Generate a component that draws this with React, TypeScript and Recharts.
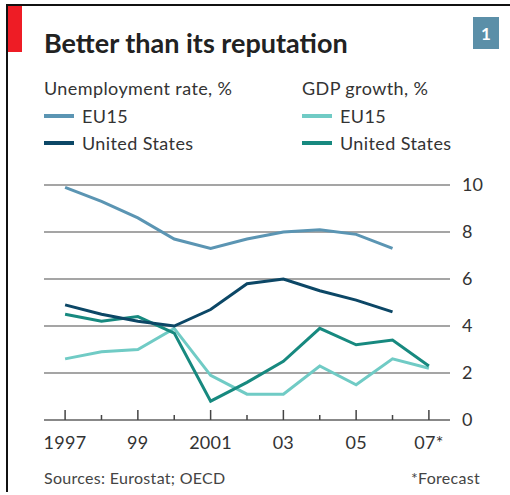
import React from 'react';
import { LineChart, Line, XAxis, YAxis, CartesianGrid } from 'recharts';

const years = [1997, 1998, 1999, 2000, 2001, 2002, 2003, 2004, 2005, 2006, 2007];
const unempEU = [9.9, 9.3, 8.6, 7.7, 7.3, 7.7, 8.0, 8.1, 7.9, 7.3, null];
const unempUS = [4.9, 4.5, 4.2, 4.0, 4.7, 5.8, 6.0, 5.5, 5.1, 4.6, null];
const gdpEU = [2.6, 2.9, 3.0, 3.9, 1.9, 1.1, 1.1, 2.3, 1.5, 2.6, 2.2];
const gdpUS = [4.5, 4.2, 4.4, 3.7, 0.8, 1.6, 2.5, 3.9, 3.2, 3.4, 2.3];
const yearLabels: Record<number, string> = { 1997: '1997', 1999: '99', 2001: '2001', 2003: '03', 2005: '05', 2007: '07*' };
const yTicks = [0, 2, 4, 6, 8, 10];

const data = years.map((y, i) => ({
  year: y,
  unempEU: unempEU[i],
  unempUS: unempUS[i],
  gdpEU: gdpEU[i],
  gdpUS: gdpUS[i],
}));

const FONT = 'Lato, "Open Sans", sans-serif';
const C = {
  unempEU: '#5b95b3',
  unempUS: '#0c4766',
  gdpEU: '#70cbc5',
  gdpUS: '#17897f',
};

const YearTick = (props: any) => {
  const { x, y, payload } = props;
  const label = yearLabels[payload.value];
  const major = label !== undefined;
  return (
    <g>
      <line x1={x} x2={x} y1={y - (major ? 10 : 5)} y2={y} stroke="#444" strokeWidth={1.5} />
      {major && (
        <text x={x} y={y + 29} textAnchor="middle" fontSize={18} fill="#333" fontFamily={FONT} letterSpacing={0.3}>
          {label}
        </text>
      )}
    </g>
  );
};

const Swatch = ({ color, label }: { color: string; label: string }) => (
  <div style={{ display: 'flex', alignItems: 'center', height: 27 }}>
    <div style={{ width: 30, height: 4, background: color, marginRight: 8 }} />
    <span>{label}</span>
  </div>
);

export default function App() {
  return (
    <div
      style={{
        position: 'absolute',
        left: 0,
        top: 0,
        width: 510,
        height: 495,
        background: '#fff',
        fontFamily: FONT,
        color: '#333',
        overflow: 'hidden',
      }}
    >
      <div style={{ position: 'absolute', left: 7, top: 4, width: 503, height: 2, background: '#111' }} />
      <div style={{ position: 'absolute', left: 6, top: 4, width: 2, height: 488, background: '#111' }} />
      <div style={{ position: 'absolute', left: 8, top: 6, width: 14, height: 46, background: '#ee1c25' }} />
      <div
        style={{
          position: 'absolute',
          left: 473,
          top: 17,
          width: 26,
          height: 32,
          background: '#5b8fa8',
          color: '#fff',
          fontWeight: 700,
          fontSize: 17,
          display: 'flex',
          alignItems: 'center',
          justifyContent: 'center',
        }}
      >
        1
      </div>
      <div style={{ position: 'absolute', left: 44, top: 26, fontSize: 27, fontWeight: 700, color: '#222' }}>
        Better than its reputation
      </div>
      <div style={{ position: 'absolute', left: 44, top: 76, fontSize: 18, letterSpacing: 0.4, lineHeight: '24px' }}>
        <div style={{ marginBottom: 2 }}>Unemployment rate, %</div>
        <Swatch color={C.unempEU} label="EU15" />
        <Swatch color={C.unempUS} label="United States" />
      </div>
      <div style={{ position: 'absolute', left: 302, top: 76, fontSize: 18, letterSpacing: 0.4, lineHeight: '24px' }}>
        <div style={{ marginBottom: 2 }}>GDP growth, %</div>
        <Swatch color={C.gdpEU} label="EU15" />
        <Swatch color={C.gdpUS} label="United States" />
      </div>

      <div style={{ position: 'absolute', left: 0, top: 0 }}>
        <LineChart width={510} height={495} data={data} margin={{ top: 185, right: 0, bottom: 45, left: 44 }}>
          <CartesianGrid vertical={false} stroke="#a5a5a5" strokeWidth={2} />
          <XAxis
            dataKey="year"
            type="number"
            domain={[1996.42, 2007.58]}
            ticks={years}
            interval={0}
            height={30}
            tickSize={0}
            tickMargin={0}
            axisLine={{ stroke: '#888', strokeWidth: 2 }}
            tick={<YearTick />}
          />
          <YAxis
            orientation="right"
            domain={[0, 10]}
            ticks={yTicks}
            interval={0}
            width={60}
            axisLine={false}
            tickLine={false}
            tickMargin={6}
            tick={{ fontSize: 18, fill: '#333', fontFamily: FONT, textAnchor: 'start' }}
          />
          <Line dataKey="unempEU" stroke={C.unempEU} strokeWidth={3} dot={false} isAnimationActive={false} />
          <Line dataKey="gdpEU" stroke={C.gdpEU} strokeWidth={3} dot={false} isAnimationActive={false} />
          <Line dataKey="gdpUS" stroke={C.gdpUS} strokeWidth={3} dot={false} isAnimationActive={false} />
          <Line dataKey="unempUS" stroke={C.unempUS} strokeWidth={3} dot={false} isAnimationActive={false} />
        </LineChart>
      </div>

      <div style={{ position: 'absolute', left: 44, top: 468, fontSize: 16, color: '#444', letterSpacing: 0.3 }}>
        Sources: Eurostat; OECD
      </div>
      <div style={{ position: 'absolute', right: 30, top: 468, fontSize: 16, color: '#444', letterSpacing: 0.3 }}>
        *Forecast
      </div>
    </div>
  );
}
